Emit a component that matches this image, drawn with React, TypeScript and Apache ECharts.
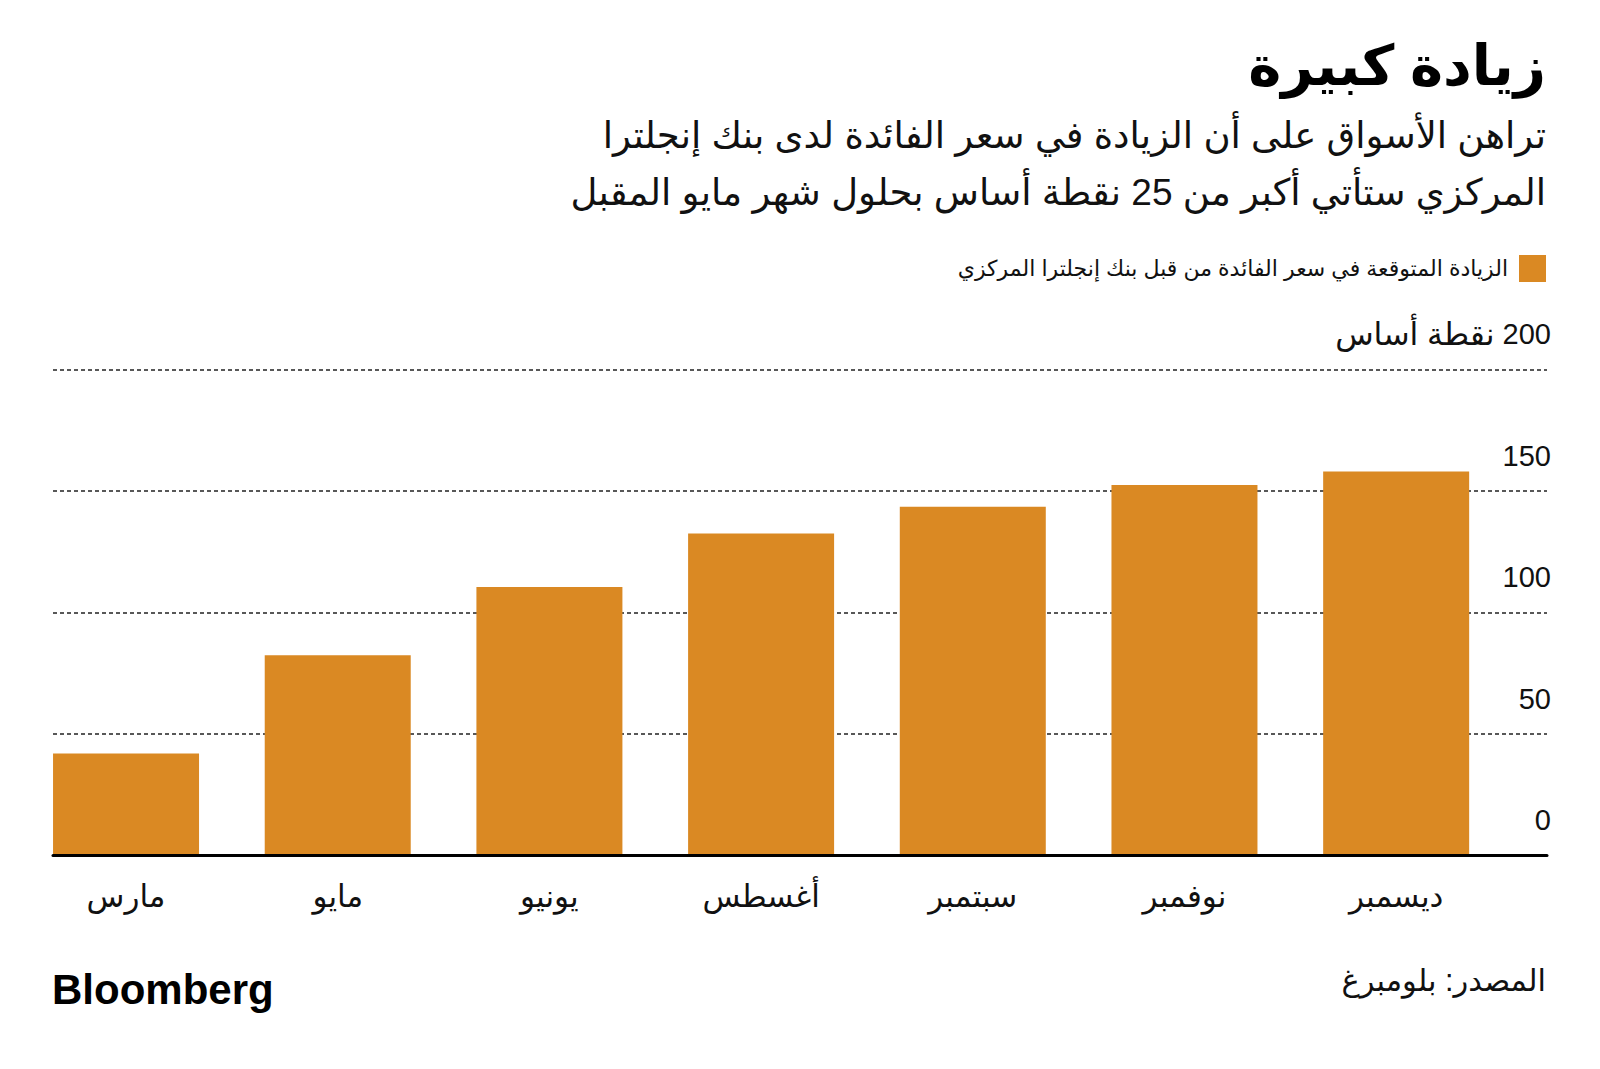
import React, { useEffect, useRef } from "react";
import * as echarts from "echarts";

const categories = ["مارس", "مايو", "يونيو", "أغسطس", "سبتمبر", "نوفمبر", "ديسمبر"];
const values = [42, 82.5, 110.5, 132.5, 143.5, 152.5, 158];
const seriesName = "الزيادة المتوقعة في سعر الفائدة من قبل بنك إنجلترا المركزي";
const yMin = 0;
const yMax = 200;
const yInterval = 50;
const yUnit = "نقطة أساس";
const titleText = "زيادة كبيرة";
const subtitleLines = [
  "تراهن الأسواق على أن الزيادة في سعر الفائدة لدى بنك إنجلترا",
  "المركزي ستأتي أكبر من 25 نقطة أساس بحلول شهر مايو المقبل",
];
const sourceText = "المصدر: بلومبرغ";
const brandText = "Bloomberg";

const FONT = "'Liberation Sans', 'DejaVu Sans', sans-serif";
const BAR = "#DA8923";
const INK = "#111111";

export default function App() {
  const ref = useRef<HTMLDivElement>(null);
  useEffect(() => {
    if (!ref.current) return;
    const chart = echarts.init(ref.current, null, { renderer: "svg" });
    const top = 369.5;
    const bottom = 1069 - 855.7;
    chart.setOption({
      animation: false,
      backgroundColor: "#ffffff",
      textStyle: { fontFamily: FONT, color: INK },
      legend: {
        data: [seriesName],
        right: 49,
        top: 250,
        align: "right",
        icon: "rect",
        itemWidth: 27,
        itemHeight: 27,
        selectedMode: false,
        textStyle: { fontSize: 22, color: INK, fontFamily: FONT, padding: [0, 6, 0, 0] },
      },
      grid: [
        { left: 20.2, right: 98, top, bottom },
        { left: 53, right: 53, top, bottom },
      ],
      xAxis: [
        {
          type: "category",
          gridIndex: 0,
          data: categories,
          axisLine: { show: false },
          axisTick: { show: false },
          axisLabel: { fontSize: 31, color: INK, margin: 25, fontFamily: FONT },
        },
        {
          type: "value",
          gridIndex: 1,
          min: 0,
          max: 1,
          z: 5,
          axisLine: { show: true, lineStyle: { color: "#000", width: 3 } },
          axisTick: { show: false },
          axisLabel: { show: false },
          splitLine: { show: false },
        },
      ],
      yAxis: [
        {
          type: "value",
          gridIndex: 0,
          min: yMin,
          max: yMax,
          interval: yInterval,
          show: false,
          splitLine: { show: false },
        },
        {
          type: "value",
          gridIndex: 1,
          min: yMin,
          max: yMax,
          interval: yInterval,
          position: "right",
          z: 0,
          axisLine: { show: false },
          axisTick: { show: false },
          splitLine: { show: true, lineStyle: { color: "#222", width: 1.5, type: [4, 3] } },
          axisLabel: {
            inside: true,
            margin: -4,
            verticalAlign: "middle",
            padding: [0, 0, 71, 0],
            fontSize: 29,
            color: INK,
            fontFamily: FONT,
            formatter: (v: number) => (v === yMax ? `{u|${yUnit}} {n|${v}}` : `{n|${v}}`),
            rich: {
              u: { fontSize: 31.5, color: INK, fontFamily: FONT },
              n: { fontSize: 29, color: INK, fontFamily: FONT },
            },
          },
        },
      ],
      series: [
        {
          name: seriesName,
          type: "bar",
          xAxisIndex: 0,
          yAxisIndex: 0,
          data: values,
          barWidth: 146,
          itemStyle: { color: BAR },
          z: 2,
        },
      ],
      graphic: [
        {
          type: "text",
          right: 54,
          top: 37,
          style: { text: titleText, font: `bold 56px ${FONT}`, fill: "#000", textAlign: "right" },
        },
        {
          type: "text",
          right: 54,
          top: 117,
          style: { text: subtitleLines[0], font: `37px ${FONT}`, fill: INK },
        },
        {
          type: "text",
          right: 54,
          top: 174,
          style: { text: subtitleLines[1], font: `37px ${FONT}`, fill: INK },
        },
        {
          type: "text",
          right: 54,
          top: 964,
          style: { text: sourceText, font: `30.5px ${FONT}`, fill: INK },
        },
        {
          type: "text",
          left: 52,
          top: 968,
          style: {
            text: brandText,
            font: `bold 42px 'Liberation Sans', Arial, sans-serif`,
            fill: "#000",
          },
        },
      ],
    });
    return () => chart.dispose();
  }, []);
  return (
    <div
      ref={ref}
      style={{ position: "fixed", left: 0, top: 0, width: 1600, height: 1069, background: "#fff" }}
    />
  );
}
